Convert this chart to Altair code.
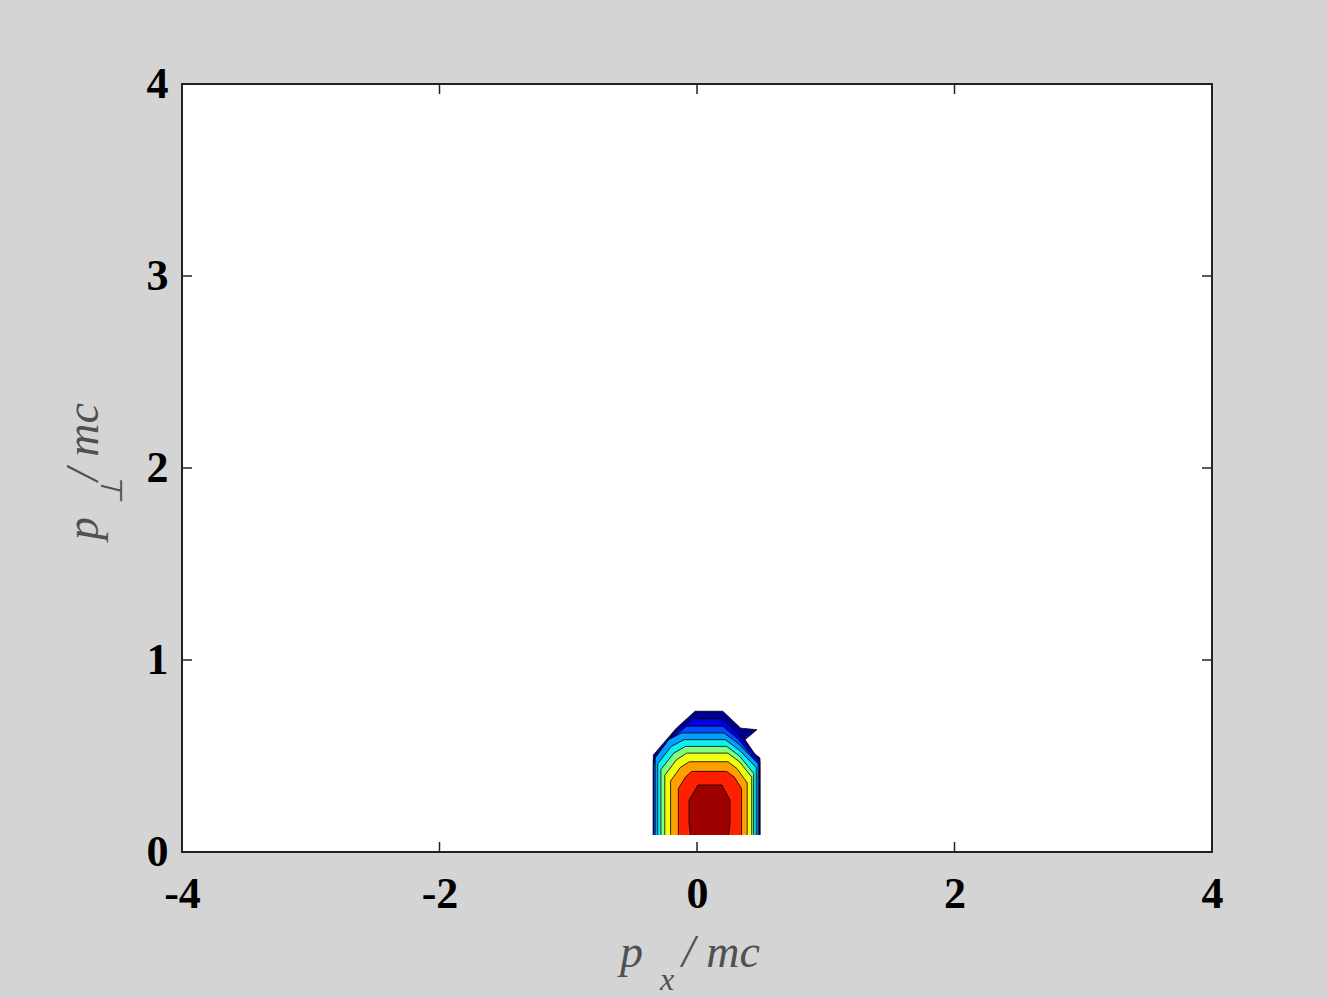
import altair as alt
import pandas as pd

# Filled contour bands of the momentum distribution, outermost level first.
# Each band is a closed region in (p_x, p_perp) space, clipped at the bottom grid row.
band_colors = ["#00008f", "#0000e0", "#0050ff", "#00a0ff", "#10f0ef",
               "#80ff80", "#efff10", "#ffa000", "#ff2000", "#9f0000"]

lvl1_x = [-0.339, -0.339, -0.16, -0.015, 0.2, 0.34, 0.465, 0.373, 0.45, 0.489, 0.489]
lvl1_y = [0.089, 0.505, 0.645, 0.733, 0.733, 0.645, 0.637, 0.585, 0.51, 0.49, 0.089]
lvl2_x = [-0.339, -0.339, -0.17, -0.03, 0.19, 0.31, 0.489, 0.489]
lvl2_y = [0.089, 0.48, 0.625, 0.695, 0.695, 0.625, 0.47, 0.089]
lvl3_x = [-0.339, -0.339, -0.2, -0.08, 0.2, 0.32, 0.485, 0.485]
lvl3_y = [0.089, 0.45, 0.59, 0.655, 0.655, 0.59, 0.45, 0.089]
lvl4_x = [-0.325, -0.325, -0.22, -0.12, 0.21, 0.32, 0.475, 0.475]
lvl4_y = [0.089, 0.49, 0.585, 0.62, 0.62, 0.565, 0.46, 0.089]
lvl5_x = [-0.305, -0.305, -0.2, -0.1, 0.22, 0.33, 0.46, 0.46]
lvl5_y = [0.089, 0.46, 0.55, 0.585, 0.585, 0.53, 0.44, 0.089]
lvl6_x = [-0.28, -0.28, -0.18, -0.09, 0.23, 0.33, 0.44, 0.44]
lvl6_y = [0.089, 0.43, 0.515, 0.55, 0.55, 0.5, 0.41, 0.089]
lvl7_x = [-0.25, -0.25, -0.16, -0.08, 0.24, 0.33, 0.425, 0.425]
lvl7_y = [0.089, 0.40, 0.48, 0.515, 0.515, 0.47, 0.39, 0.089]
lvl8_x = [-0.205, -0.205, -0.13, -0.06, 0.24, 0.31, 0.39, 0.39]
lvl8_y = [0.089, 0.37, 0.44, 0.47, 0.47, 0.435, 0.36, 0.089]
lvl9_x = [-0.145, -0.145, -0.09, -0.04, 0.23, 0.29, 0.346, 0.346]
lvl9_y = [0.089, 0.33, 0.39, 0.42, 0.42, 0.39, 0.33, 0.089]
lvl10_x = [-0.05, -0.062, -0.062, 0.008, 0.194, 0.256, 0.256, 0.245]
lvl10_y = [0.089, 0.15, 0.27, 0.349, 0.349, 0.27, 0.15, 0.089]

levels_x = [lvl1_x, lvl2_x, lvl3_x, lvl4_x, lvl5_x, lvl6_x, lvl7_x, lvl8_x, lvl9_x, lvl10_x]
levels_y = [lvl1_y, lvl2_y, lvl3_y, lvl4_y, lvl5_y, lvl6_y, lvl7_y, lvl8_y, lvl9_y, lvl10_y]

x_ticks = [-4, -2, 0, 2, 4]
y_ticks = [0, 1, 2, 3, 4]

W, H = 1030, 768
SERIF = "Liberation Serif"

rows = []
for k, (xs, ys) in enumerate(zip(levels_x, levels_y)):
    for i, (xv, yv) in enumerate(zip(xs, ys)):
        rows.append({"level": k, "i": i, "x": xv, "y": yv})
poly = pd.DataFrame(rows)

xscale = alt.Scale(domain=[-4, 4], nice=False, zero=False)
yscale = alt.Scale(domain=[0, 4], nice=False, zero=False)

axis_common = dict(
    ticks=False, domain=False, grid=False, title=None,
    labelFont=SERIF, labelFontWeight="bold", labelFontSize=44,
    labelColor="black", labelExpr="'' + datum.value",
    labelFlush=False, labelOverlap=False, labelBound=False,
)

# Tick data with axes: the labels come from here, inward ticks are drawn as rules.
xt = pd.DataFrame({"v": x_ticks})
yt = pd.DataFrame({"v": y_ticks})

bottom_ticks = alt.Chart(xt).mark_rule(color="#222", strokeWidth=1.5).encode(
    x=alt.X("v:Q", scale=xscale,
            axis=alt.Axis(values=x_ticks, labelPadding=20, **axis_common)),
    y=alt.value(H), y2=alt.value(H - 10),
)
top_ticks = alt.Chart(xt).mark_rule(color="#222", strokeWidth=1.5).encode(
    x=alt.X("v:Q", scale=xscale), y=alt.value(0), y2=alt.value(10),
)
left_ticks = alt.Chart(yt).mark_rule(color="#222", strokeWidth=1.5).encode(
    y=alt.Y("v:Q", scale=yscale,
            axis=alt.Axis(values=y_ticks, labelPadding=14, **axis_common)),
    x=alt.value(0), x2=alt.value(10),
)
right_ticks = alt.Chart(yt).mark_rule(color="#222", strokeWidth=1.5).encode(
    y=alt.Y("v:Q", scale=yscale), x=alt.value(W), x2=alt.value(W - 10),
)

bands = []
for k, col in enumerate(band_colors):
    bands.append(
        alt.Chart(poly).transform_filter(alt.datum.level == k)
        .mark_line(fill=col, stroke="black", strokeWidth=0.8, strokeJoin="miter")
        .encode(x=alt.X("x:Q", scale=xscale), y=alt.Y("y:Q", scale=yscale),
                order=alt.Order("i:Q"))
    )

# Axis titles with subscripts, set as separate text pieces.
title_style = dict(font=SERIF, fontStyle="italic", color="#505050")
def label(txt, x, y, size, angle=0):
    return alt.Chart(pd.DataFrame({"t": [txt]})).mark_text(
        align="left", baseline="alphabetic", fontSize=size, angle=angle, **title_style
    ).encode(text="t:N", x=alt.value(x), y=alt.value(y))

titles = [
    label("p", 438, 883, 46),
    label("x", 478, 906, 32),
    label("/ mc", 500, 883, 46),
    label("p", -84, 456, 46, 270),
    label("\u22a5", -60, 420, 30, 270),
    label("/ mc", -84, 397, 46, 270),
]

chart = alt.layer(
    bottom_ticks, left_ticks, top_ticks, right_ticks, *bands, *titles
).properties(
    width=W, height=H,
    background="#d4d4d4",
    padding={"left": 182, "top": 84, "right": 115, "bottom": 146},
    autosize=alt.AutoSizeParams(type="none"),
).configure_view(
    fill="white", stroke="#222", strokeWidth=2,
)

chart.save("out.html", embed_options={"renderer": "svg", "actions": False})
